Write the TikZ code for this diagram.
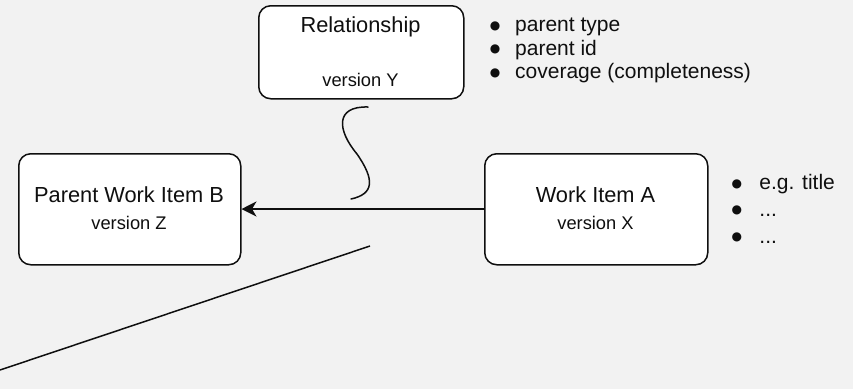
\documentclass[tikz,border=0pt]{standalone}
\usepackage{fontspec}
\setmainfont{Liberation Sans}
\newfontfamily\markfont{DejaVu Sans}
\usetikzlibrary{arrows.meta}
\definecolor{canvas}{RGB}{242,242,242}
\definecolor{ink}{RGB}{15,15,15}
% list marker: a solid round dot, centred in a 10pt slot
\newcommand{\dotmark}{\makebox[10pt][c]{\raisebox{2.5pt}{\markfont\fontsize{12}{12}\selectfont ●}}}
\begin{document}
\begin{tikzpicture}[x=1pt,y=-1pt,
  itembox/.style={draw=ink, line width=1.5pt, fill=white, rounded corners=12pt,
    inner sep=0pt, anchor=north west},
  bigtext/.style={font=\fontsize{21.8}{26}\selectfont, text=ink, inner sep=0pt},
  smalltext/.style={font=\fontsize{18.3}{22}\selectfont, text=ink, inner sep=0pt},
  listtext/.style={text=ink, inner sep=0pt, anchor=base west},
  link/.style={draw=ink, line width=1.5pt}
]
  % canvas
  \fill[canvas] (0,0) rectangle (853,389);
  \useasboundingbox (0,0) rectangle (853,389);

  % Relationship box with its attributes
  \node[itembox, minimum width=205pt, minimum height=93pt] (rel) at (258,5) {};
  \node[bigtext] (relname) at (360.5,27) {Relationship};
  \node[smalltext] (relver) at (360.5,80) {version Y};
  \node[listtext, font=\fontsize{21}{23.5}\selectfont] (rellist) at (490,31.5)
    {\begin{tabular}[t]{@{}l@{}}
      \dotmark\hspace{15pt}parent type\\
      \dotmark\hspace{15pt}parent id\\
      \dotmark\hspace{15pt}coverage (completeness)
    \end{tabular}};

  % Parent work item
  \node[itembox, minimum width=222pt, minimum height=111pt] (parent) at (18,153) {};
  \node[bigtext] (parentname) at (129,195) {Parent Work Item B};
  \node[smalltext] (parentver) at (129,223) {version Z};

  % Child work item with its attributes
  \node[itembox, minimum width=223pt, minimum height=111pt] (child) at (484,153) {};
  \node[bigtext] (childname) at (595.5,195) {Work Item A};
  \node[smalltext] (childver) at (595.5,223) {version X};
  \node[listtext, font=\fontsize{21}{26.8}\selectfont] (childlist) at (731.7,189.5)
    {\begin{tabular}[t]{@{}l@{}}
      \dotmark\hspace{17.5pt}e.g. title\\
      \dotmark\hspace{17.5pt}...\\
      \dotmark\hspace{17.5pt}...
    \end{tabular}};

  % parent link
  \draw[link, -{Stealth[length=15pt, width=15pt, inset=4.5pt]}] (child.west |- 0,209) -- (parent.east |- 0,209);

  % wavy connector hanging below the relationship box
  \coordinate (wavetop) at (368,107);
  \coordinate (wavemid) at (357,154);
  \coordinate (waveend) at (351,199);
  \draw[link, line cap=round] (wavetop) .. controls (335,106) and (337,130) .. (wavemid)
        .. controls (375,180) and (374,194) .. (waveend);

  % long diagonal stroke
  \coordinate (diagA) at (370,246);
  \coordinate (diagB) at (0,370);
  \draw[link] (diagA) -- (diagB);
\end{tikzpicture}
\end{document}
